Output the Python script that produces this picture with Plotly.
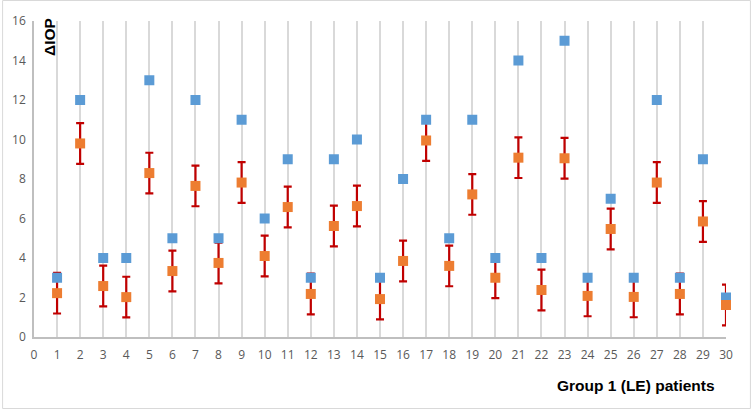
import plotly.graph_objects as go

patients = list(range(1, 31))
observed = [3, 12, 4, 4, 13, 5, 12, 5, 11, 6, 9, 3, 9, 10, 3, 8, 11, 5, 11, 4,
            14, 4, 15, 3, 7, 3, 12, 3, 9, 2]
predicted = [2.22, 9.8, 2.58, 2.02, 8.3, 3.34, 7.65, 3.75, 7.82, 4.1,
             6.58, 2.18, 5.62, 6.63, 1.92, 3.85, 9.95, 3.6, 7.22, 3.0,
             9.08, 2.38, 9.05, 2.08, 5.47, 2.03, 7.82, 2.18, 5.85, 1.62]
error = [1.03] * 30
x_ticks = list(range(0, 31))
y_ticks = list(range(0, 17, 2))

BLUE = "#5B9BD5"
ORANGE = "#ED7D31"
RED = "#C00000"

fig = go.Figure()
# error bars (underneath the markers)
fig.add_trace(go.Scatter(
    x=patients, y=predicted, mode="markers", cliponaxis=False,
    marker=dict(size=10, color=ORANGE, opacity=0),
    error_y=dict(type="data", array=error, color=RED, thickness=2.2, width=4),
    showlegend=False, hoverinfo="skip"))
fig.add_trace(go.Scatter(
    x=patients, y=observed, mode="markers", cliponaxis=False,
    marker=dict(symbol="square", size=10, color=BLUE),
    showlegend=False))
fig.add_trace(go.Scatter(
    x=patients, y=predicted, mode="markers", cliponaxis=False,
    marker=dict(symbol="square", size=10, color=ORANGE),
    showlegend=False))

fig.update_layout(
    width=751, height=409,
    margin=dict(l=32, r=25, t=21, b=72),
    paper_bgcolor="white", plot_bgcolor="white",
    font=dict(family="Open Sans, Liberation Sans, sans-serif", size=12, color="#595959"),
    xaxis=dict(range=[0, 30], tickvals=x_ticks, showgrid=True, gridcolor="#D9D9D9",
               gridwidth=1.5, zeroline=False, showline=True, linecolor="#BFBFBF",
               linewidth=1.5, ticks="", ticklabelstandoff=6, fixedrange=True),
    yaxis=dict(range=[0, 16], tickvals=y_ticks, showgrid=False, zeroline=False,
               showline=True, linecolor="#BFBFBF", linewidth=1.5, ticks="",
               ticklabelstandoff=4, fixedrange=True),
    shapes=[dict(type="rect", xref="paper", yref="paper",
                 x0=-0.0454, x1=1.0353, y0=-0.2263, y1=1.0649,
                 line=dict(color="#D9D9D9", width=1), layer="below")],
    annotations=[
        dict(text="<b>ΔIOP</b>", xref="paper", yref="paper",
             x=(47 - 32) / 694, y=(337 - 37) / 316, textangle=-90,
             showarrow=False, xanchor="center", yanchor="middle",
             font=dict(family="Liberation Sans, Arial, sans-serif", size=15.5, color="black")),
        dict(text="<b>Group 1 (LE) patients</b>", xref="paper", yref="paper",
             x=(636 - 32) / 694, y=(337 - 385) / 316,
             showarrow=False, xanchor="center", yanchor="middle",
             font=dict(family="Liberation Sans, Arial, sans-serif", size=15.5, color="black")),
    ],
)

fig.write_html("out.html", config={"displayModeBar": False},
               post_script="document.body.style.margin='0';")
